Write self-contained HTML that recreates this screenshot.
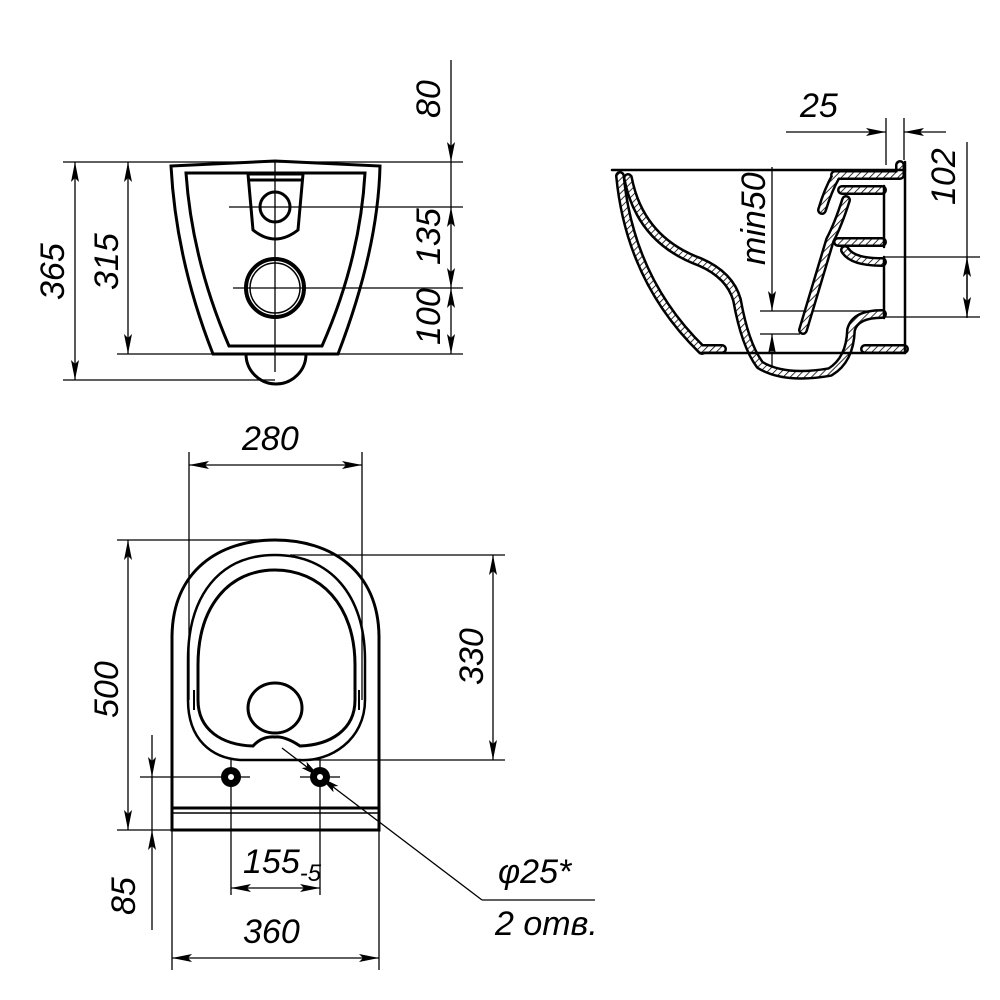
<!DOCTYPE html>
<html><head><meta charset="utf-8"><style>
html,body{margin:0;padding:0;background:#fff}
svg{display:block}
text{font-family:"Liberation Sans","DejaVu Sans",sans-serif;font-style:italic;font-size:34px;fill:#000}
</style></head><body>
<svg width="1000" height="1000" viewBox="0 0 1000 1000" xmlns="http://www.w3.org/2000/svg">
<defs>
<marker id="a" viewBox="0 0 20 8" refX="20" refY="4" markerWidth="20" markerHeight="8" markerUnits="userSpaceOnUse" orient="auto-start-reverse"><path d="M0,0 L20,4 L0,8 L4,4z" fill="#000"/></marker>
<pattern id="h" width="5" height="5" patternUnits="userSpaceOnUse" patternTransform="rotate(45)"><rect width="5" height="5" fill="#fff"/><line x1="0" y1="0" x2="0" y2="5" stroke="#000" stroke-width="1.6"/></pattern>
</defs>

<g fill="none" stroke="#000" stroke-width="1.3">
<line x1="63" y1="162" x2="463" y2="162"/>
<line x1="63" y1="380" x2="275" y2="380"/>
<line x1="117" y1="354" x2="463" y2="354"/>
<line x1="75" y1="162" x2="75" y2="380" marker-start="url(#a)" marker-end="url(#a)"/>
<line x1="128" y1="162" x2="128" y2="354" marker-start="url(#a)" marker-end="url(#a)"/>
<line x1="451" y1="60" x2="451" y2="162" marker-end="url(#a)"/>
<line x1="451" y1="162" x2="451" y2="207"/>
<line x1="451" y1="207" x2="451" y2="288" marker-start="url(#a)" marker-end="url(#a)"/>
<line x1="451" y1="288" x2="451" y2="354" marker-start="url(#a)" marker-end="url(#a)"/>
<line x1="229" y1="207" x2="463" y2="207"/>
<line x1="233" y1="288" x2="463" y2="288"/>
<line x1="275" y1="160" x2="275" y2="372"/>
</g>
<g fill="none" stroke="#000" stroke-width="3">
<path d="M171,166 L275,161 L380,166 Q378,250 338,354 L213,354 Q176,260 171,166Z"/>
<path d="M186,173 L365,173 Q360,260 322,346 L229,346 Q192,260 186,173Z"/>
<path d="M246,354 A30,30 0 0 0 306,354"/>
<path d="M248,174 L303,174 L298,230 Q275,248 253,230Z"/>
<line x1="249" y1="180" x2="302" y2="180"/>
<circle cx="275" cy="207" r="15"/>
<circle cx="275" cy="288" r="29" stroke-width="4"/>
<circle cx="275" cy="288" r="25" stroke-width="1.5"/>
</g>
<text transform="translate(440,118) rotate(-90)">80</text>
<text transform="translate(440,265) rotate(-90)">135</text>
<text transform="translate(440,345) rotate(-90)">100</text>
<text transform="translate(64,300) rotate(-90)">365</text>
<text transform="translate(118,290) rotate(-90)">315</text>

<g fill="none" stroke="#000" stroke-width="1.3">
<line x1="786" y1="132" x2="886" y2="132" marker-end="url(#a)"/>
<line x1="946" y1="132" x2="904" y2="132" marker-end="url(#a)"/>
<line x1="886" y1="118" x2="886" y2="165"/>
<line x1="904" y1="118" x2="904" y2="160"/>
<line x1="967" y1="142" x2="967" y2="318"/>
<line x1="967" y1="257" x2="967" y2="317" marker-start="url(#a)" marker-end="url(#a)"/>
<line x1="885" y1="257" x2="980" y2="257"/>
<line x1="885" y1="317" x2="980" y2="317"/>
<line x1="772" y1="167" x2="772" y2="311" marker-end="url(#a)"/>
<line x1="772" y1="334" x2="772" y2="370" marker-start="url(#a)"/>
<line x1="760" y1="311" x2="880" y2="311"/>
<line x1="760" y1="334" x2="800" y2="334"/>
</g>
<text x="800" y="117">25</text>
<text transform="translate(955,205) rotate(-90)">102</text>
<text transform="translate(765,265) rotate(-90)">min50</text>
<g fill="none" stroke-linejoin="round" stroke-linecap="round">
<g stroke="#000" stroke-width="10">
<path d="M620,176 Q630,280 702,350"/>
<path d="M628,178 Q640,240 700,262 Q730,275 737,300 Q745,345 760,365 Q785,380 830,372 Q850,360 851,330 Q855,314 882,314"/>
<path d="M835,175 L900,175 L900,165"/>
<path d="M836,176 Q828,190 822,210 M842,190 L882,190 M846,200 Q838,225 830,240 Q815,290 803,330 M838,242 L882,242 M845,250 Q852,262 882,262"/>
<path d="M702,349 L722,349 M865,349 L904,349"/>
</g>
<g stroke="url(#h)" stroke-width="5">
<path d="M620,176 Q630,280 702,350"/>
<path d="M628,178 Q640,240 700,262 Q730,275 737,300 Q745,345 760,365 Q785,380 830,372 Q850,360 851,330 Q855,314 882,314"/>
<path d="M835,175 L900,175 L900,165"/>
<path d="M836,176 Q828,190 822,210 M842,190 L882,190 M846,200 Q838,225 830,240 Q815,290 803,330 M838,242 L882,242 M845,250 Q852,262 882,262"/>
<path d="M702,349 L722,349 M865,349 L904,349"/>
</g>
<g stroke="#000" stroke-width="2.5">
<line x1="612" y1="170" x2="905" y2="170"/>
<line x1="905" y1="162" x2="905" y2="353"/>
<line x1="700" y1="353" x2="905" y2="353"/>
<line x1="884" y1="186" x2="884" y2="247"/>
<line x1="884" y1="257" x2="884" y2="318"/>
</g>
</g>

<g fill="none" stroke="#000" stroke-width="1.3">
<line x1="189" y1="452" x2="189" y2="700"/>
<line x1="362" y1="452" x2="362" y2="700"/>
<line x1="189" y1="465" x2="362" y2="465" marker-start="url(#a)" marker-end="url(#a)"/>
<line x1="117" y1="540" x2="285" y2="540"/>
<line x1="117" y1="830" x2="172" y2="830"/>
<line x1="128" y1="540" x2="128" y2="830" marker-start="url(#a)" marker-end="url(#a)"/>
<line x1="290" y1="555" x2="505" y2="555"/>
<line x1="310" y1="760" x2="505" y2="760"/>
<line x1="493" y1="555" x2="493" y2="760" marker-start="url(#a)" marker-end="url(#a)"/>
<line x1="140" y1="777" x2="250" y2="777"/>
<line x1="300" y1="777" x2="340" y2="777"/>
<line x1="231" y1="758" x2="231" y2="895"/>
<line x1="320" y1="758" x2="320" y2="895"/>
<line x1="231" y1="888" x2="320" y2="888" marker-start="url(#a)" marker-end="url(#a)"/>
<line x1="172" y1="830" x2="172" y2="970"/>
<line x1="379" y1="830" x2="379" y2="970"/>
<line x1="172" y1="958" x2="379" y2="958" marker-start="url(#a)" marker-end="url(#a)"/>
<line x1="152" y1="735" x2="152" y2="777" marker-end="url(#a)"/>
<line x1="152" y1="930" x2="152" y2="830" marker-end="url(#a)"/>
<line x1="152" y1="777" x2="152" y2="830"/>
<line x1="282" y1="748" x2="320" y2="777" marker-end="url(#a)"/>
<line x1="482" y1="900" x2="320" y2="777" marker-end="url(#a)"/>
<line x1="482" y1="900" x2="595" y2="900"/>
</g>
<g fill="none" stroke="#000" stroke-width="3">
<path d="M172,830 L172,638 C172,570 220,540 275,540 C330,540 379,570 379,638 L379,830Z"/>
<line x1="172" y1="808" x2="379" y2="808"/>
<line x1="172" y1="813" x2="379" y2="813" stroke-width="1.5"/>
<path d="M275,555 C330,555 365,595 365,660 L365,700 C365,740 330,762 300,760 L240,760 C212,758 188,740 188,700 L188,660 C188,595 220,555 275,555Z" stroke-width="2.5"/>
<path d="M275,570 C320,570 355,605 355,665 L355,700 C355,730 330,745 300,746 Q285,736 275,737 Q262,736 253,746 C222,745 198,730 198,700 L198,665 C198,605 230,570 275,570Z"/>
<path d="M194,690 L194,710 M359,690 L359,710" stroke-width="2"/>
<ellipse cx="275" cy="708" rx="27" ry="25"/>
</g>
<circle cx="231" cy="777" r="10" fill="#000"/>
<circle cx="231" cy="777" r="3" fill="#fff"/>
<circle cx="320" cy="777" r="10" fill="#000"/>
<circle cx="320" cy="777" r="3" fill="#fff"/>
<text x="242" y="450">280</text>
<text transform="translate(118,718) rotate(-90)">500</text>
<text transform="translate(483,685) rotate(-90)">330</text>
<text x="243" y="873">155<tspan font-size="24" dy="8">-5</tspan></text>
<text x="243" y="943">360</text>
<text transform="translate(135,915) rotate(-90)">85</text>
<text x="498" y="883">φ25*</text>
<text x="495" y="935">2 отв.</text>
</svg>
</body></html>
